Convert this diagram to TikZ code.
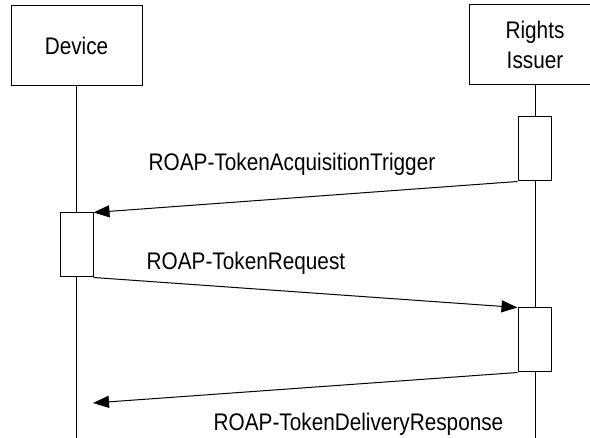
\documentclass[tikz,border=0pt]{standalone}
\usepackage{fontspec}
\setmainfont{Liberation Sans}
\usetikzlibrary{arrows.meta}
\newcommand{\sqz}[1]{\scalebox{0.865}[1]{#1}}
\begin{document}
\begin{tikzpicture}[x=1pt,y=-1pt,
  every node/.style={font=\fontsize{24}{30}\selectfont},
  actor/.style={draw,line width=1pt,fill=white,minimum width=131pt,minimum height=80pt,inner sep=0pt,align=center},
  act/.style={draw,line width=1pt,fill=white,minimum width=33pt,minimum height=64pt,inner sep=0pt},
  life/.style={line width=1pt},
  msg/.style={line width=1pt,-{Triangle[length=16pt,width=12pt]}},
  lbl/.style={anchor=base west,inner sep=0pt}]
\useasboundingbox (0,0) rectangle (590,438);
\begin{scope}
\clip (0,0) rectangle (590,438);
\node[actor] (dev) at (76.5,46) {\sqz{Device}};
\node[actor,minimum width=132pt] (ri) at (535,45) {\sqz{Rights}\\\sqz{Issuer}};
\coordinate (devend) at (76.5,438);
\coordinate (riend) at (535,438);
\draw[life] (dev.south) -- (devend);
\draw[life] (ri.south) -- (riend);
\node[act] (a1) at (534.5,149) {};
\node[act] (d1) at (76.5,245) {};
\node[act] (a2) at (534.5,340) {};
\coordinate (e3) at (93,403);
\draw[msg] (a1.south west) -- (d1.north east);
\draw[msg] (d1.south east) -- (a2.north west);
\draw[msg] (a2.south west) -- (e3);
\node[lbl] (l1) at (148.5,171) {\sqz{ROAP-TokenAcquisitionTrigger}};
\node[lbl] (l2) at (146.5,269.5) {\sqz{ROAP-TokenRequest}};
\node[lbl] (l3) at (213.5,431) {\sqz{ROAP-TokenDeliveryResponse}};
\end{scope}
\end{tikzpicture}
\end{document}
